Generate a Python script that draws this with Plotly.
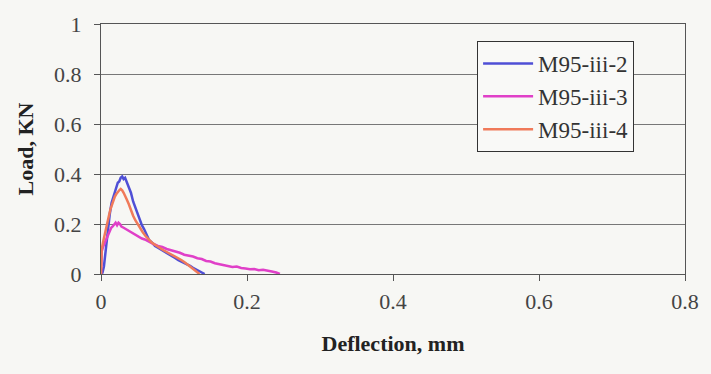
import plotly.graph_objects as go

series_names = ["M95-iii-2", "M95-iii-3", "M95-iii-4"]

blue_x = [0, 0.002, 0.004, 0.006, 0.008, 0.010, 0.012, 0.0145, 0.017, 0.019, 0.021, 0.023, 0.025, 0.027,
          0.029, 0.031, 0.033, 0.035, 0.037, 0.039, 0.041, 0.044, 0.047, 0.050, 0.053, 0.056, 0.059, 0.062,
          0.066, 0.070, 0.074, 0.078, 0.082, 0.086, 0.090, 0.094, 0.098, 0.102, 0.106, 0.110, 0.114, 0.118,
          0.122, 0.126, 0.130, 0.134, 0.138, 0.142]
blue_y = [0, 0.005, 0.03, 0.09, 0.15, 0.19, 0.24, 0.285, 0.31, 0.335, 0.35, 0.365, 0.37, 0.385,
          0.39, 0.38, 0.385, 0.37, 0.36, 0.345, 0.325, 0.29, 0.265, 0.24, 0.22, 0.195, 0.18, 0.16,
          0.135, 0.125, 0.112, 0.105, 0.098, 0.092, 0.087, 0.078, 0.07, 0.063, 0.055, 0.05, 0.043, 0.038,
          0.033, 0.025, 0.018, 0.012, 0.006, 0]

pink_x = [0, 0.001, 0.003, 0.005, 0.008, 0.010, 0.012, 0.014, 0.016, 0.018, 0.020, 0.022, 0.024, 0.026,
          0.028, 0.031, 0.034, 0.037, 0.040, 0.044, 0.048, 0.052, 0.056, 0.060, 0.066, 0.072, 0.078, 0.084,
          0.090, 0.096, 0.102, 0.108, 0.114, 0.120, 0.126, 0.132, 0.138, 0.144, 0.150, 0.156, 0.162, 0.168,
          0.174, 0.180, 0.186, 0.192, 0.198, 0.204, 0.210, 0.216, 0.222, 0.228, 0.234, 0.240, 0.245]
pink_y = [0, 0.09, 0.11, 0.125, 0.145, 0.16, 0.17, 0.185, 0.19, 0.2, 0.205, 0.195, 0.205, 0.2,
          0.19, 0.185, 0.18, 0.175, 0.17, 0.16, 0.155, 0.15, 0.142, 0.138, 0.128, 0.12, 0.112, 0.108,
          0.1, 0.096, 0.09, 0.085, 0.077, 0.074, 0.07, 0.063, 0.06, 0.052, 0.05, 0.043, 0.04, 0.036,
          0.033, 0.028, 0.03, 0.024, 0.022, 0.019, 0.02, 0.015, 0.017, 0.012, 0.01, 0.006, 0]

orange_x = [0, 0.001, 0.003, 0.005, 0.007, 0.009, 0.011, 0.013, 0.015, 0.017, 0.019, 0.021, 0.023, 0.025,
            0.027, 0.029, 0.031, 0.033, 0.035, 0.038, 0.041, 0.044, 0.047, 0.050, 0.054, 0.057, 0.061, 0.065,
            0.070, 0.075, 0.080, 0.085, 0.090, 0.095, 0.100, 0.105, 0.110, 0.115, 0.120, 0.125, 0.130, 0.135]
orange_y = [0, 0.10, 0.13, 0.16, 0.19, 0.21, 0.235, 0.26, 0.28, 0.295, 0.31, 0.32, 0.33, 0.335,
            0.34, 0.335, 0.325, 0.315, 0.30, 0.28, 0.255, 0.233, 0.215, 0.2, 0.18, 0.168, 0.152, 0.14,
            0.125, 0.115, 0.104, 0.096, 0.088, 0.08, 0.074, 0.065, 0.056, 0.046, 0.034, 0.022, 0.012, 0]

x_ticks = [0, 0.2, 0.4, 0.6, 0.8]
x_tick_text = ["0", "0.2", "0.4", "0.6", "0.8"]
y_ticks = [0, 0.2, 0.4, 0.6, 0.8, 1]
y_tick_text = ["0", "0.2", "0.4", "0.6", "0.8", "1"]

colors = ["#4f4fd6", "#e040c8", "#f07a5a"]
serif = "Liberation Serif"

fig = go.Figure()
for name, xs, ys, c in zip(series_names, [blue_x, pink_x, orange_x], [blue_y, pink_y, orange_y], colors):
    fig.add_trace(go.Scatter(x=xs, y=ys, mode="lines", name=name,
                             line=dict(color=c, width=2.5)))

fig.update_layout(
    width=711, height=374,
    margin=dict(l=101, r=20, t=20, b=100),
    paper_bgcolor="#f7f7f4",
    plot_bgcolor="#f7f7f4",
    font=dict(family=serif, size=22, color="#444444"),
    showlegend=True,
    legend=dict(
        x=0.644, y=0.932, xanchor="left", yanchor="top",
        bgcolor="#f9f9f7", bordercolor="#333333", borderwidth=1,
        font=dict(family=serif, size=23, color="#333333"),
        itemwidth=50, tracegroupgap=0,
    ),
)
fig.update_xaxes(
    range=[0, 0.8], tickvals=x_ticks, ticktext=x_tick_text,
    showgrid=False, zeroline=False,
    showline=True, linecolor="#555555", linewidth=1, mirror=True,
    ticks="outside", ticklen=6, tickcolor="#555555",
    tickfont=dict(family=serif, size=22, color="#444444"),
    ticklabelstandoff=2,
    title=dict(text="<b>Deflection, mm</b>", font=dict(family=serif, size=22, color="#222222"), standoff=22),
)
fig.update_yaxes(
    range=[0, 1], tickvals=y_ticks, ticktext=y_tick_text,
    showgrid=True, gridcolor="#777777", gridwidth=1, zeroline=False,
    showline=True, linecolor="#555555", linewidth=1, mirror=True,
    ticks="outside", ticklen=6, tickcolor="#555555",
    tickfont=dict(family=serif, size=22, color="#444444"),
    ticklabelstandoff=8,
    title=dict(text="<b>Load, KN</b>", font=dict(family=serif, size=22, color="#222222"), standoff=14),
)

fig.write_html("out.html")
